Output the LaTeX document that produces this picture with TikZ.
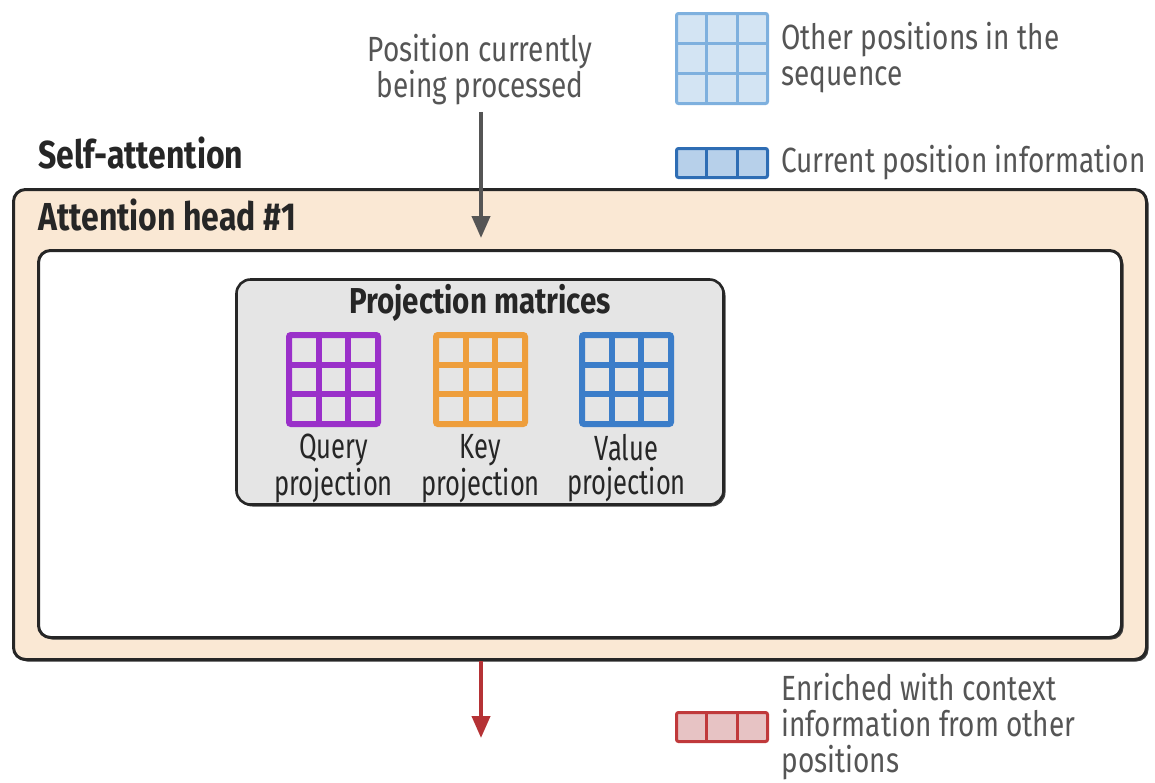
\documentclass[tikz,border=0pt]{standalone}
\usepackage{fontspec}
\setmainfont{Fira Sans}[FakeStretch=0.80]
\newfontfamily\narrowfont{Fira Sans}[FakeStretch=0.73]
\usetikzlibrary{
		calc,
		positioning,
		arrows.meta,
		shadows
	}
\definecolor{peach}{HTML}{FAE8D4}
\definecolor{panelgrey}{HTML}{E5E5E5}
\definecolor{qpurple}{HTML}{9A30C9}
\definecolor{korange}{HTML}{EE9E3C}
\definecolor{vblue}{HTML}{3B7DC9}
\definecolor{otherline}{HTML}{7EB0DE}
\definecolor{otherfill}{HTML}{D3E4F3}
\definecolor{curline}{HTML}{2E6DB4}
\definecolor{curfill}{HTML}{B7D0EA}
\definecolor{richline}{HTML}{C0393B}
\definecolor{richfill}{HTML}{E7C3C4}
\definecolor{arrowred}{HTML}{B53235}
\definecolor{labelgrey}{HTML}{555555}
\tikzset{
		>={Triangle[length=11pt,width=9pt]},
		txt/.style={font=\fontsize{17.5}{18}\selectfont, inner sep=0pt},
		head/.style={txt, font=\fontsize{19.5}{20}\selectfont\bfseries\addfontfeatures{FakeStretch=0.82}, text=black!85},
		legendtxt/.style={txt, align=left, anchor=west, text=labelgrey},
		projtxt/.style={txt, font=\fontsize{17.5}{17}\selectfont\narrowfont, align=center, text=black!85},
		shadowed/.style={drop shadow={shadow xshift=1pt, shadow yshift=-1pt, opacity=1, fill=black!75}},
		gridbox/.style={draw=#1, line width=3pt, inner sep=0pt, outer sep=0pt, minimum size=44.5pt, rounded corners=1pt},
		legendbox/.style={draw=#1, line width=1.5pt, inner sep=0pt, outer sep=0pt, rounded corners=1pt}
	}
% vertical and horizontal cell lines inside a box node
\newcommand{\cellcols}[2]{%
	\foreach \f in {1/3,2/3}
		\draw[#2] ($(#1.north west)!\f!(#1.north east)$) -- ($(#1.south west)!\f!(#1.south east)$);
}
\newcommand{\cellrows}[2]{%
	\foreach \f in {1/3,2/3}
		\draw[#2] ($(#1.north west)!\f!(#1.south west)$) -- ($(#1.north east)!\f!(#1.south east)$);
}
\begin{document}
\begin{tikzpicture}[x=0.5pt, y=-0.5pt]
		\useasboundingbox (0,0) rectangle (1155,782);
		% boxes
		\node[shadowed, draw=black!85, fill=peach, line width=1.5pt, rounded corners=6pt,
			minimum width=566.5pt, minimum height=235pt, inner sep=0pt] (head1) at (580,424.5) {};
		\node[shadowed, draw=black!85, fill=white, line width=1.5pt, rounded corners=6pt,
			minimum width=541.5pt, minimum height=193.5pt, inner sep=0pt] (inner) at (580,444) {};
		\node[shadowed, draw=black!85, fill=panelgrey, line width=1.3pt, rounded corners=7pt,
			minimum width=243.5pt, minimum height=112.5pt, inner sep=0pt] (proj) at (480,392) {};
		% headings
		\node[head, anchor=base west] (selfatt) at (38,168) {Self-attention};
		\node[head, anchor=base west] (headlbl) at (38,230) {Attention head \#1};
		\node[head, font=\fontsize{18}{18}\selectfont\bfseries\addfontfeatures{FakeStretch=0.82}] (projlbl) at (480,303) {Projection matrices};
		% projection grids
		\node[gridbox=qpurple] (qgrid) at (333.5,379.5) {};
		\node[gridbox=korange] (kgrid) at (480.5,379.5) {};
		\node[gridbox=vblue] (vgrid) at (626.5,379.5) {};
		\cellcols{qgrid}{qpurple, line width=3pt}
		\cellrows{qgrid}{qpurple, line width=3pt}
		\cellcols{kgrid}{korange, line width=3pt}
		\cellrows{kgrid}{korange, line width=3pt}
		\cellcols{vgrid}{vblue, line width=3pt}
		\cellrows{vgrid}{vblue, line width=3pt}
		\node[projtxt, below=5pt of qgrid] (qlbl) {Query\\projection};
		\node[projtxt, below=5pt of kgrid] (klbl) {Key\\projection};
		\node[projtxt, below=5pt of vgrid] (vlbl) {Value\\projection};
		% legend
		\node[legendbox=otherline, fill=otherfill, minimum width=45.5pt, minimum height=45pt] (othergrid) at (722,58.5) {};
		\cellcols{othergrid}{otherline, line width=1.5pt}
		\cellrows{othergrid}{otherline, line width=1.5pt}
		\node[legendtxt] (otherlbl) at (781,58) {Other positions in the\\sequence};
		\node[legendbox=curline, fill=curfill, minimum width=45.5pt, minimum height=14.5pt] (curbar) at (722,163) {};
		\cellcols{curbar}{curline, line width=1.5pt}
		\node[legendtxt] (curlbl) at (781,163) {Current position information};
		\node[legendbox=richline, fill=richfill, minimum width=45.5pt, minimum height=14.5pt] (richbar) at (722,727) {};
		\cellcols{richbar}{richline, line width=1.5pt}
		\node[legendtxt] (richlbl) at (781,727) {Enriched with context\\information from other\\positions};
		% arrows
		\node[txt, align=center, text=labelgrey] (proc) at (480,70) {Position currently\\being processed};
		\coordinate (procend) at (481,238);
		\coordinate (richend) at (481,738);
		\draw[->, line width=2pt, draw=labelgrey, fill=labelgrey, shorten <=3pt] (proc.south -| procend) -- (procend);
		\draw[->, line width=2pt, draw=arrowred, fill=arrowred] (head1.south -| richend) -- (richend);
	\end{tikzpicture}
\end{document}
